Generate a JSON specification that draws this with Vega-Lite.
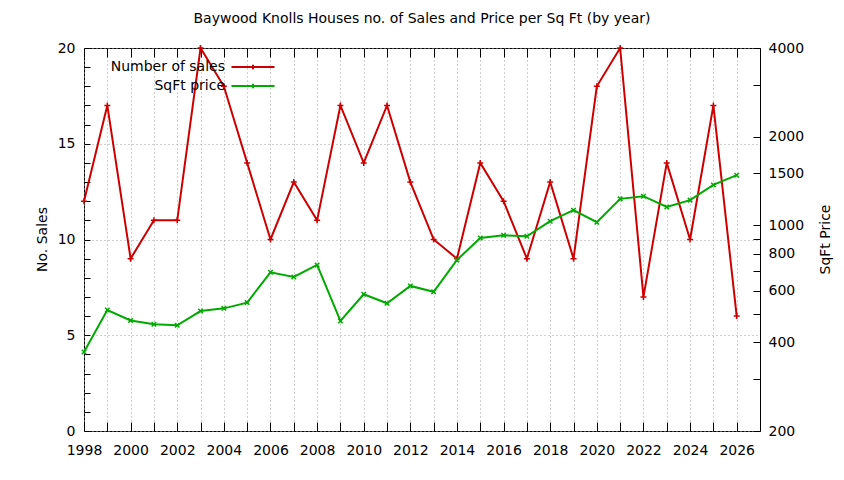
{
  "$schema": "https://vega.github.io/schema/vega-lite/v6.json",
  "width": 676,
  "height": 383,
  "autosize": "none",
  "padding": {"left": 84, "top": 48, "right": 84, "bottom": 49},
  "background": "#ffffff",
  "title": {
    "text": "Baywood Knolls Houses no. of Sales and Price per Sq Ft (by year)",
    "font": "DejaVu Sans",
    "fontSize": 14,
    "fontWeight": "normal",
    "color": "#000000",
    "offset": 15
  },
  "data": {
    "values": [
      {"year": 1998, "series": "Number of sales", "value": 12},
      {"year": 1999, "series": "Number of sales", "value": 17},
      {"year": 2000, "series": "Number of sales", "value": 9},
      {"year": 2001, "series": "Number of sales", "value": 11},
      {"year": 2002, "series": "Number of sales", "value": 11},
      {"year": 2003, "series": "Number of sales", "value": 20},
      {"year": 2004, "series": "Number of sales", "value": 18},
      {"year": 2005, "series": "Number of sales", "value": 14},
      {"year": 2006, "series": "Number of sales", "value": 10},
      {"year": 2007, "series": "Number of sales", "value": 13},
      {"year": 2008, "series": "Number of sales", "value": 11},
      {"year": 2009, "series": "Number of sales", "value": 17},
      {"year": 2010, "series": "Number of sales", "value": 14},
      {"year": 2011, "series": "Number of sales", "value": 17},
      {"year": 2012, "series": "Number of sales", "value": 13},
      {"year": 2013, "series": "Number of sales", "value": 10},
      {"year": 2014, "series": "Number of sales", "value": 9},
      {"year": 2015, "series": "Number of sales", "value": 14},
      {"year": 2016, "series": "Number of sales", "value": 12},
      {"year": 2017, "series": "Number of sales", "value": 9},
      {"year": 2018, "series": "Number of sales", "value": 13},
      {"year": 2019, "series": "Number of sales", "value": 9},
      {"year": 2020, "series": "Number of sales", "value": 18},
      {"year": 2021, "series": "Number of sales", "value": 20},
      {"year": 2022, "series": "Number of sales", "value": 7},
      {"year": 2023, "series": "Number of sales", "value": 14},
      {"year": 2024, "series": "Number of sales", "value": 10},
      {"year": 2025, "series": "Number of sales", "value": 17},
      {"year": 2026, "series": "Number of sales", "value": 6},
      {"year": 1998, "series": "SqFt price", "value": 371},
      {"year": 1999, "series": "SqFt price", "value": 515},
      {"year": 2000, "series": "SqFt price", "value": 475},
      {"year": 2001, "series": "SqFt price", "value": 461},
      {"year": 2002, "series": "SqFt price", "value": 457},
      {"year": 2003, "series": "SqFt price", "value": 511},
      {"year": 2004, "series": "SqFt price", "value": 522},
      {"year": 2005, "series": "SqFt price", "value": 546},
      {"year": 2006, "series": "SqFt price", "value": 692},
      {"year": 2007, "series": "SqFt price", "value": 667},
      {"year": 2008, "series": "SqFt price", "value": 733},
      {"year": 2009, "series": "SqFt price", "value": 473},
      {"year": 2010, "series": "SqFt price", "value": 583},
      {"year": 2011, "series": "SqFt price", "value": 543},
      {"year": 2012, "series": "SqFt price", "value": 622},
      {"year": 2013, "series": "SqFt price", "value": 594},
      {"year": 2014, "series": "SqFt price", "value": 762},
      {"year": 2015, "series": "SqFt price", "value": 905},
      {"year": 2016, "series": "SqFt price", "value": 925},
      {"year": 2017, "series": "SqFt price", "value": 917},
      {"year": 2018, "series": "SqFt price", "value": 1032},
      {"year": 2019, "series": "SqFt price", "value": 1125},
      {"year": 2020, "series": "SqFt price", "value": 1024},
      {"year": 2021, "series": "SqFt price", "value": 1229},
      {"year": 2022, "series": "SqFt price", "value": 1255},
      {"year": 2023, "series": "SqFt price", "value": 1154},
      {"year": 2024, "series": "SqFt price", "value": 1217},
      {"year": 2025, "series": "SqFt price", "value": 1371},
      {"year": 2026, "series": "SqFt price", "value": 1479}
    ]
  },
  "layer": [
    {
      "transform": [{"filter": "datum.series === 'Number of sales'"}],
      "mark": {
        "type": "line",
        "strokeWidth": 2,
        "point": {"shape": "M-1,0H1M0,-1V1", "size": 36, "filled": false, "strokeWidth": 1.5}
      },
      "encoding": {
        "x": {
          "field": "year",
          "type": "quantitative",
          "scale": {"domain": [1998, 2027], "nice": false, "zero": false},
          "axis": {
            "orient": "bottom",
            "title": null,
            "values": [1998, 1999, 2000, 2001, 2002, 2003, 2004, 2005, 2006, 2007, 2008, 2009, 2010, 2011, 2012, 2013, 2014, 2015, 2016, 2017, 2018, 2019, 2020, 2021, 2022, 2023, 2024, 2025, 2026],
            "labelExpr": "datum.value % 2 === 0 ? datum.label : ''",
            "format": "d",
            "tickSize": -9,
            "grid": true,
            "labelPadding": 21
          }
        },
        "y": {
          "field": "value",
          "type": "quantitative",
          "scale": {"domain": [0, 20], "nice": false},
          "axis": {
            "orient": "left",
            "title": "No. Sales",
            "values": [0, 1, 2, 3, 4, 5, 6, 7, 8, 9, 10, 11, 12, 13, 14, 15, 16, 17, 18, 19, 20],
            "labelExpr": "datum.value % 5 === 0 ? datum.label : ''",
            "tickSize": -6,
            "grid": true,
            "gridOpacity": {"condition": {"test": "datum.value % 5 === 0", "value": 1}, "value": 0},
            "labelPadding": 15,
            "titleX": -42,
            "titleY": 191,
            "titleAngle": -90,
            "titleAlign": "center",
            "titleBaseline": "middle"
          }
        },
        "color": {
          "field": "series",
          "type": "nominal",
          "scale": {"domain": ["Number of sales", "SqFt price"], "range": ["#cc0000", "#00aa00"]},
          "legend": {
            "title": null,
            "orient": "none",
            "legendX": 162,
            "legendY": 12,
            "symbolType": "M-4,0H4M0,-0.4V0.4",
            "symbolSize": 116,
            "symbolStrokeWidth": 2,
            "symbolFillColor": "transparent",
            "labelAlign": "right",
            "labelOffset": -35,
            "labelFont": "DejaVu Sans",
            "labelFontSize": 14,
            "labelColor": "#000000",
            "rowPadding": 5
          }
        }
      }
    },
    {
      "transform": [{"filter": "datum.series === 'SqFt price'"}],
      "mark": {
        "type": "line",
        "strokeWidth": 2,
        "point": {"shape": "M-1,-1L1,1M-1,1L1,-1", "size": 20, "filled": false, "strokeWidth": 1.5}
      },
      "encoding": {
        "x": {
          "field": "year",
          "type": "quantitative",
          "axis": {
            "orient": "top",
            "title": null,
            "values": [1998, 1999, 2000, 2001, 2002, 2003, 2004, 2005, 2006, 2007, 2008, 2009, 2010, 2011, 2012, 2013, 2014, 2015, 2016, 2017, 2018, 2019, 2020, 2021, 2022, 2023, 2024, 2025, 2026],
            "labels": false,
            "tickSize": -9,
            "grid": false
          }
        },
        "y": {
          "field": "value",
          "type": "quantitative",
          "scale": {"type": "log", "domain": [200, 4000], "nice": false},
          "axis": {
            "orient": "right",
            "title": "SqFt Price",
            "values": [200, 300, 400, 500, 600, 700, 800, 900, 1000, 1500, 2000, 3000, 4000],
            "labelExpr": "indexof([200, 400, 600, 800, 1000, 1500, 2000, 4000], datum.value) >= 0 ? datum.value + '' : ''",
            "tickSize": -7,
            "grid": false,
            "labelPadding": 15,
            "titleX": 65,
            "titleY": 191,
            "titleAngle": -90,
            "titleAlign": "center",
            "titleBaseline": "middle"
          }
        },
        "color": {"field": "series", "type": "nominal"}
      }
    }
  ],
  "resolve": {"scale": {"y": "independent"}, "axis": {"y": "independent"}},
  "config": {
    "view": {"stroke": "#000000", "strokeWidth": 1},
    "axis": {
      "domain": false,
      "labelFlush": false,
      "labelOverlap": false,
      "labelFont": "DejaVu Sans",
      "labelFontSize": 14,
      "labelColor": "#000000",
      "tickColor": "#000000",
      "tickWidth": 1,
      "gridColor": "#a0a0a0",
      "gridDash": [1, 3],
      "gridWidth": 1,
      "titleFont": "DejaVu Sans",
      "titleFontSize": 14,
      "titleFontWeight": "normal",
      "titleColor": "#000000"
    }
  }
}
